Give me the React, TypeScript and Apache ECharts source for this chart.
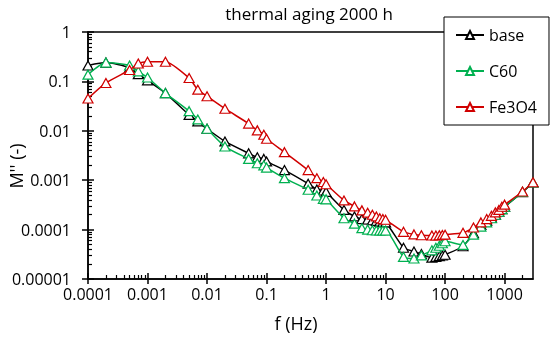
import React, { useEffect, useRef } from "react";
import * as echarts from "echarts";

const freqHz = [
  0.0001, 0.0002, 0.0005, 0.0007, 0.001, 0.002, 0.005, 0.007, 0.01, 0.02, 0.05, 0.07, 0.09, 0.1, 0.2, 0.5,
  0.7, 0.9, 1, 2, 3, 4, 5, 6, 7, 8, 9, 10, 20, 30, 40, 60, 70, 80, 90, 100, 200, 300, 400, 500, 600, 700,
  800, 900, 1000, 2000, 3000,
];

const baseM = [
  0.21, 0.24, 0.19, 0.14, 0.105, 0.058, 0.021, 0.0155, 0.011, 0.0061, 0.0035, 0.0029, 0.0027, 0.0024, 0.0016,
  0.00085, 0.00065, 0.00062, 0.00058, 0.00025, 0.000185, 0.000163, 0.00016, 0.000155, 0.00015, 0.000145,
  0.000142, 0.00014, 4.3e-5, 3.6e-5, 3.2e-5, 2.7e-5, 2.8e-5, 2.9e-5, 3.0e-5, 3.1e-5, 4.6e-5, 8.5e-5, 0.000125,
  0.00015, 0.000175, 0.0002, 0.00023, 0.00026, 0.00029, 0.00057, 0.0009,
];

const c60M = [
  0.137, 0.24, 0.21, 0.16, 0.12, 0.058, 0.025, 0.017, 0.011, 0.0048, 0.0027, 0.0022, 0.002, 0.0018, 0.0011,
  0.00064, 0.00049, 0.00042, 0.00041, 0.00017, 0.000132, 0.000107, 0.0001, 9.7e-5, 9.6e-5, 9.6e-5, 9.6e-5,
  9.6e-5, 2.8e-5, 2.6e-5, 3.0e-5, 3.8e-5, 4.3e-5, 4.7e-5, 5.3e-5, 5.8e-5, 4.9e-5, 7.9e-5, 0.000115, 0.00014,
  0.00017, 0.0002, 0.00023, 0.00026, 0.00029, 0.00058, 0.0009,
];

const fe3o4M = [
  0.045, 0.093, 0.17, 0.23, 0.25, 0.25, 0.117, 0.068, 0.05, 0.028, 0.014, 0.0102, 0.0083, 0.0069, 0.0037,
  0.0016, 0.0011, 0.00092, 0.00083, 0.00039, 0.000295, 0.000245, 0.00022, 0.0002, 0.000185, 0.00017,
  0.000163, 0.000158, 9.0e-5, 8.0e-5, 7.7e-5, 7.6e-5, 7.6e-5, 7.7e-5, 7.8e-5, 7.9e-5, 8.6e-5, 0.00011,
  0.00014, 0.000163, 0.00019, 0.000223, 0.00025, 0.00029, 0.00032, 0.00059, 0.00091,
];

const seriesNames = ["base", "C60", "Fe3O4"];
const seriesColors = ["#000000", "#00b050", "#d00000"];
const xDecades = [-4, -3, -2, -1, 0, 1, 2, 3];
const yDecades = [-5, -4, -3, -2, -1, 0];
const xMaxHz = 3000;

const titleText = "thermal aging 2000 h";
const xTitle = "f (Hz)";
const yTitle = "M'' (-)";

const FONT = "'Open Sans', 'Noto Sans', sans-serif";

function decadeLabel(v: number): string {
  const n = Math.round(v);
  if (Math.abs(v - n) > 1e-6) return "";
  if (n < 0) return "0." + "0".repeat(-n - 1) + "1";
  return "1" + "0".repeat(n);
}

function minorValues(decades: number[], upper: number): number[] {
  const out: number[] = [];
  decades.forEach((d) => {
    for (let k = 2; k <= 9; k++) {
      const v = d + Math.log10(k);
      if (v < upper - 1e-9) out.push(v);
    }
  });
  return out;
}

export default function App() {
  const ref = useRef<HTMLDivElement>(null);

  useEffect(() => {
    if (!ref.current) return;
    const chart = echarts.init(ref.current, null, { renderer: "svg" });
    const xMax = Math.log10(xMaxHz);
    const yMin = yDecades[0];
    const yMax = yDecades[yDecades.length - 1];
    const xMin = xDecades[0];
    const xMinor = minorValues(xDecades, xMax);
    const yMinor = minorValues(yDecades.slice(0, -1), yMax);
    const black = "#000";

    const baseX = {
      type: "value",
      min: xMin,
      max: xMax,
      position: "bottom",
      splitLine: { show: false },
    };
    const baseY = {
      type: "value",
      min: yMin,
      max: yMax,
      position: "left",
      splitLine: { show: false },
    };

    const allM = [baseM, c60M, fe3o4M];

    const option: any = {
      animation: false,
      textStyle: { fontFamily: FONT },
      grid: {
        left: 88,
        right: 17,
        top: 32,
        bottom: 59,
        show: true,
        borderColor: black,
        borderWidth: 1.5,
        backgroundColor: "transparent",
      },
      xAxis: [
        {
          ...baseX,
          axisLine: { show: true, onZero: false, lineStyle: { color: black, width: 1.5 } },
          axisTick: { show: true, inside: false, length: 5, customValues: xDecades, lineStyle: { color: black, width: 1.5 } },
          axisLabel: {
            show: true,
            customValues: xDecades,
            formatter: decadeLabel,
            margin: 7,
            color: black,
            fontSize: 16,
            fontFamily: FONT,
          },
        },
        {
          ...baseX,
          axisLine: { show: false, onZero: false },
          axisLabel: { show: false },
          axisTick: { show: true, inside: true, length: 4, customValues: xMinor, lineStyle: { color: black, width: 1.2 } },
        },
        {
          ...baseX,
          axisLine: { show: false, onZero: false },
          axisLabel: { show: false },
          axisTick: { show: true, inside: true, length: 6, customValues: xDecades, lineStyle: { color: black, width: 1.5 } },
        },
      ],
      yAxis: [
        {
          ...baseY,
          axisLine: { show: true, onZero: false, lineStyle: { color: black, width: 1.5 } },
          axisTick: { show: true, inside: false, length: 6, customValues: yDecades, lineStyle: { color: black, width: 1.5 } },
          axisLabel: {
            show: true,
            customValues: yDecades,
            formatter: decadeLabel,
            margin: 17,
            color: black,
            fontSize: 16,
            fontFamily: FONT,
          },
        },
        {
          ...baseY,
          axisLine: { show: false, onZero: false },
          axisLabel: { show: false },
          axisTick: { show: true, inside: true, length: 4, customValues: yMinor, lineStyle: { color: black, width: 1.2 } },
        },
        {
          ...baseY,
          axisLine: { show: false, onZero: false },
          axisLabel: { show: false },
          axisTick: { show: true, inside: true, length: 6, customValues: yDecades, lineStyle: { color: black, width: 1.5 } },
        },
      ],
      legend: {
        orient: "vertical",
        left: 444,
        top: 17,
        padding: [10, 12, 10, 11],
        itemGap: 20,
        itemWidth: 28,
        itemHeight: 10,
        backgroundColor: "#fff",
        borderColor: black,
        borderWidth: 1,
        z: 10,
        textStyle: { fontSize: 16, color: black, fontFamily: FONT },
        data: seriesNames,
      },
      graphic: [
        {
          type: "text",
          x: 309,
          y: 13,
          style: { text: titleText, fontSize: 17, fontFamily: FONT, fill: black, align: "center", verticalAlign: "middle" },
        },
        {
          type: "text",
          x: 296,
          y: 323,
          style: { text: xTitle, fontSize: 18, fontFamily: FONT, fill: black, align: "center", verticalAlign: "middle" },
        },
        {
          type: "text",
          x: 16,
          y: 166,
          rotation: Math.PI / 2,
          style: { text: yTitle, fontSize: 18, fontFamily: FONT, fill: black, align: "center", verticalAlign: "middle" },
        },
      ],
      series: seriesNames.map((name, i) => ({
        name,
        type: "line",
        xAxisIndex: 0,
        yAxisIndex: 0,
        data: freqHz.map((f, j) => [Math.log10(f), Math.log10(allM[i][j])]),
        symbol: "triangle",
        symbolSize: [10, 9],
        showAllSymbol: true,
        smooth: 0.2,
        lineStyle: { color: seriesColors[i], width: 1.5 },
        itemStyle: { color: "#fff", borderColor: seriesColors[i], borderWidth: 1.2 },
        z: 2 + i,
      })),
    };

    chart.setOption(option);
    return () => chart.dispose();
  }, []);

  return <div ref={ref} style={{ position: "fixed", left: 0, top: 0, width: 550, height: 338 }} />;
}
